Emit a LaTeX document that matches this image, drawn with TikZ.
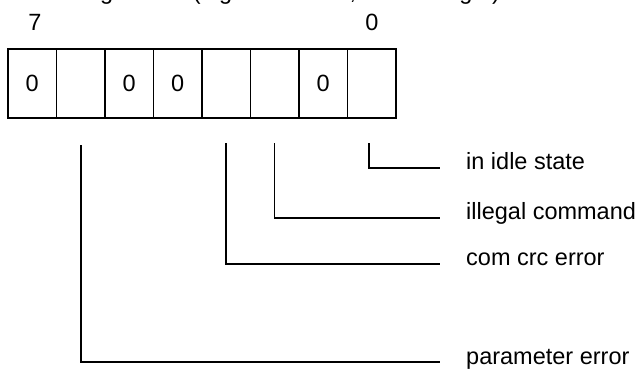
\documentclass[tikz,border=0pt]{standalone}
\usepackage{fontspec}
\setmainfont{Liberation Sans}
\begin{document}
\begin{tikzpicture}[x=1pt,y=-1pt,
  every node/.style={font=\fontsize{23.5}{28}\selectfont},
  cell/.style={draw=black,line width=1.7pt,minimum width=48.5pt,minimum height=69pt,inner sep=0pt,outer sep=0pt},
  leader/.style={draw=black,line width=1.5pt},
  lbl/.style={anchor=mid west,inner sep=0pt}]
\useasboundingbox (0,0) rectangle (640,368);
\clip (0,0) rectangle (640,368);
% clipped title
\node[anchor=base west,inner sep=0pt] (title) at (-122,-1) {R1 response encoding format (eight bits wide, LSB on right)};
% bit numbers
\node (b7) at (35,22) {7};
\node (b0) at (372,22) {0};
% cells
\node[cell] (c0) at (32.25,83.5) {0};
\node[cell] (c1) at (80.75,83.5) {};
\node[cell] (c2) at (129.25,83.5) {0};
\node[cell] (c3) at (177.75,83.5) {0};
\node[cell] (c4) at (226.25,83.5) {};
\node[cell] (c5) at (274.75,83.5) {};
\node[cell] (c6) at (323.25,83.5) {0};
\node[cell] (c7) at (371.75,83.5) {};
% leader start points
\coordinate (t0) at (369,143);
\coordinate (t2) at (274.5,143);
\coordinate (t3) at (226,143);
\coordinate (t6) at (81,145);
% leader end points
\coordinate (e0) at (440,168);
\coordinate (e2) at (440,218);
\coordinate (e3) at (440,264);
\coordinate (e6) at (440,362);
% labels
\node[lbl] (l0) at (466,167) {in idle state};
\node[lbl] (l2) at (466,217) {illegal command};
\node[lbl] (l3) at (466,263) {com crc error};
\node[lbl] (l6) at (466,362) {parameter error};
% leaders
\draw[leader] (t0) |- (e0);
\draw[leader] (t2) |- (e2);
\draw[leader] (t3) |- (e3);
\draw[leader] (t6) |- (e6);
\end{tikzpicture}
\end{document}
